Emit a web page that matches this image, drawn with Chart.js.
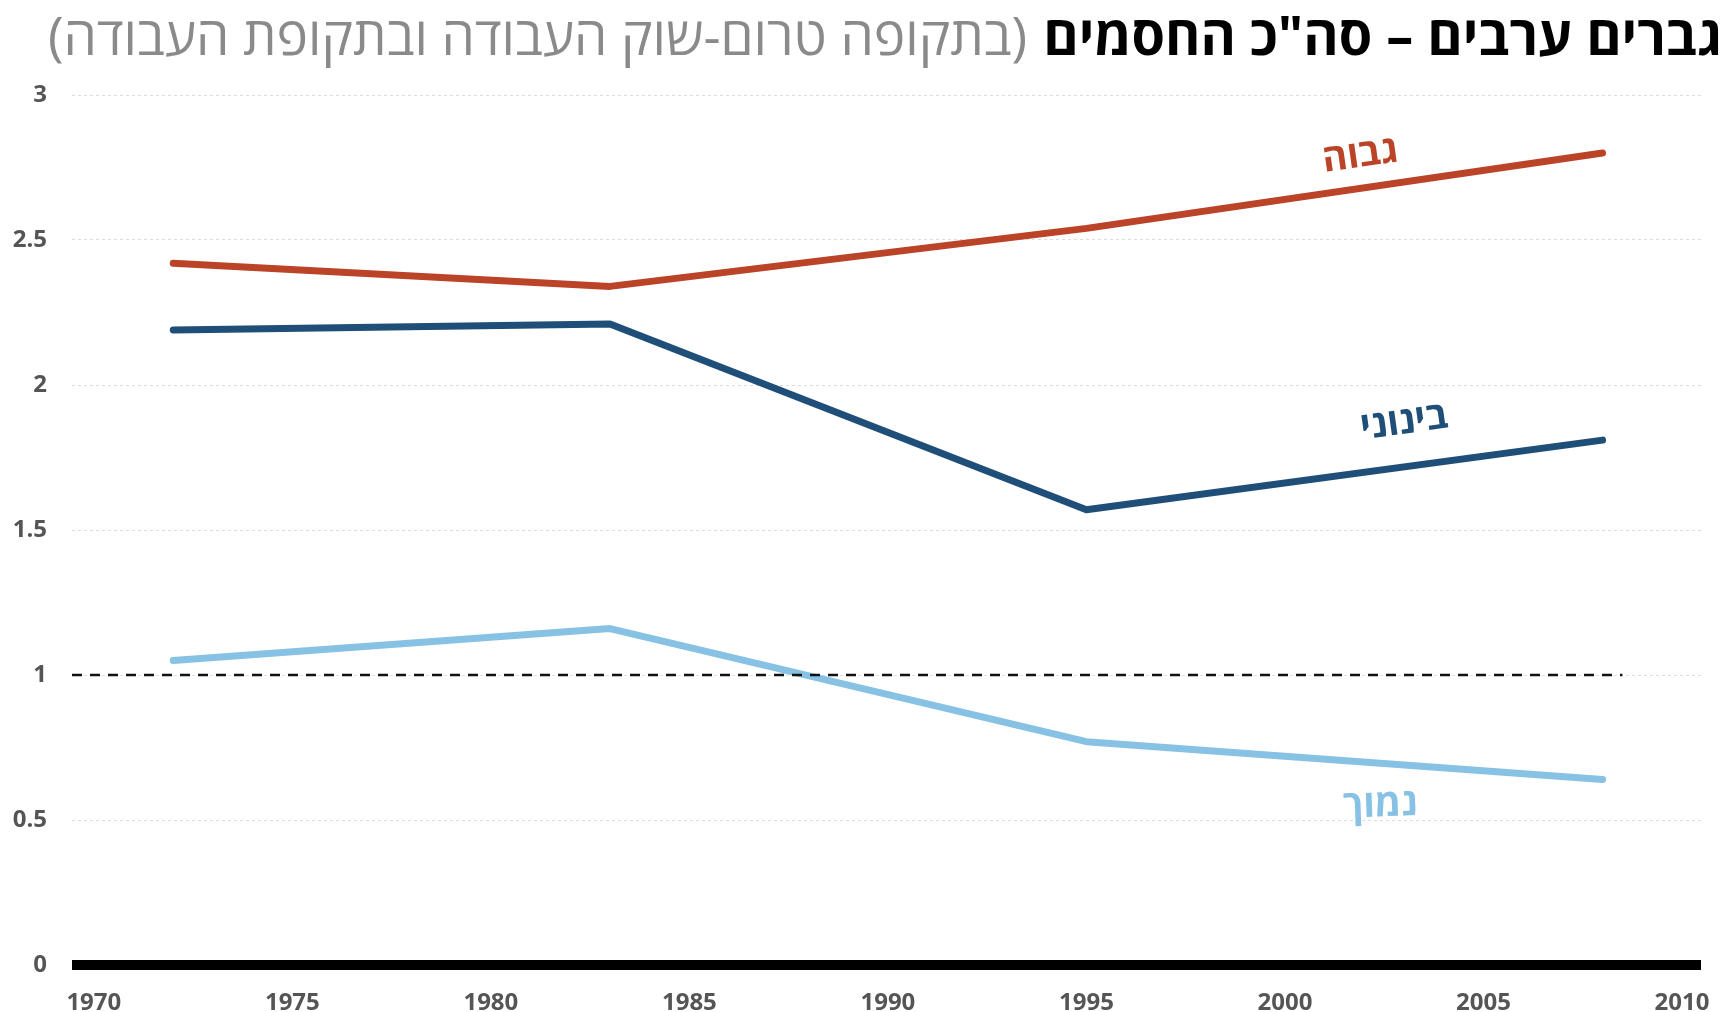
<!DOCTYPE html>
<html>
<head>
<meta charset="utf-8">
<script src="https://cdn.jsdelivr.net/npm/chart.js@4/dist/chart.umd.min.js"></script>
<style>
  html, body { margin: 0; padding: 0; background: #fff; }
  #wrap { width: 1729px; height: 1012px; position: relative; }
</style>
</head>
<body>
<div id="wrap"><canvas id="chart"></canvas></div>
<script>
// survey years and index values per group
const years = [1972, 1983, 1995, 2008];
const high = [2.42, 2.34, 2.54, 2.80];
const middle = [2.19, 2.21, 1.57, 1.81];
const low = [1.05, 1.16, 0.77, 0.64];

const seriesNames = ['גבוה', 'בינוני', 'נמוך'];
// where each series name sits: [year, value, tilt in degrees]
const nameAnchors = [[2001.9, 2.79, -8], [2003.0, 1.87, -8], [2002.4, 0.55, -2]];

const xTicks = [1970, 1975, 1980, 1985, 1990, 1995, 2000, 2005, 2010];
const yTicks = [0, 0.5, 1, 1.5, 2, 2.5, 3];
const xMin = 1969.45, xMax = 2010.48;
const refValue = 1, refEnd = 2008.5;

const titleMain = 'גברים ערבים – סה"כ החסמים';
const titleSub = '(בתקופה טרום-שוק העבודה ובתקופת העבודה)';

const colors = ['#bb4327', '#1f4e79', '#87c2e5'];

const pts = vals => vals.map((v, i) => ({ x: years[i], y: v }));

const titleLine = {
  id: 'titleLine',
  afterDraw(chart) {
    const c = chart.ctx;
    c.save();
    c.direction = 'rtl';
    c.textAlign = 'right';
    c.textBaseline = 'alphabetic';
    c.font = 'bold 54px "Open Sans", "DejaVu Sans"';
    c.fillStyle = '#000';
    c.fillText(titleMain, 1722, 55);
    const w = c.measureText(titleMain).width;
    c.font = '53px "Open Sans", "DejaVu Sans"';
    c.fillStyle = '#8a8a8a';
    c.fillText(titleSub, 1722 - w - 16, 55);
    c.restore();
  }
};

const seriesNamesPlugin = {
  id: 'seriesNames',
  afterDatasetsDraw(chart) {
    const c = chart.ctx;
    const xs = chart.scales.x, ys = chart.scales.y;
    c.save();
    c.font = 'bold 38px "Open Sans", "DejaVu Sans"';
    c.textAlign = 'center';
    c.textBaseline = 'middle';
    c.direction = 'rtl';
    seriesNames.forEach((name, i) => {
      const [yr, val, deg] = nameAnchors[i];
      c.save();
      c.translate(xs.getPixelForValue(yr), ys.getPixelForValue(val));
      c.rotate(deg * Math.PI / 180);
      c.fillStyle = colors[i];
      c.fillText(name, 0, 0);
      c.restore();
    });
    c.restore();
  }
};

const lineSet = (label, vals, color) => ({
  label: label,
  data: pts(vals),
  borderColor: color,
  borderWidth: 7,
  borderCapStyle: 'round',
  borderJoinStyle: 'round',
  pointRadius: 0,
  tension: 0,
  clip: false
});

new Chart(document.getElementById('chart'), {
  type: 'line',
  data: {
    datasets: [
      {
        label: 'zero',
        data: [{ x: xMin, y: 0 }, { x: xMax, y: 0 }],
        borderColor: '#000',
        borderWidth: 10,
        pointRadius: 0,
        clip: false
      },
      {
        label: 'ref',
        data: [{ x: xMin, y: refValue }, { x: refEnd, y: refValue }],
        borderColor: '#111',
        borderWidth: 2.5,
        borderDash: [10, 8],
        pointRadius: 0
      },
      lineSet(seriesNames[0], high, colors[0]),
      lineSet(seriesNames[1], middle, colors[1]),
      lineSet(seriesNames[2], low, colors[2])
    ]
  },
  options: {
    responsive: true,
    maintainAspectRatio: false,
    animation: false,
    layout: { padding: { top: 95, right: 28, left: 0, bottom: 0 } },
    plugins: {
      legend: { display: false },
      tooltip: { enabled: false }
    },
    scales: {
      x: {
        type: 'linear',
        min: xMin,
        max: xMax,
        afterBuildTicks: s => { s.ticks = xTicks.map(v => ({ value: v })); },
        afterFit: s => { s.height = 47; s.paddingLeft = 0; s.paddingRight = 0; },
        grid: { display: false, drawTicks: false },
        border: { display: false },
        ticks: {
          padding: 24,
          color: '#555',
          font: { family: '"Open Sans"', weight: 'bold', size: 24 },
          callback: v => String(v)
        }
      },
      y: {
        min: 0,
        max: 3,
        afterBuildTicks: s => { s.ticks = yTicks.map(v => ({ value: v })); },
        afterFit: s => { s.width = 72; },
        grid: { color: '#dcdcdc', lineWidth: 1, drawTicks: false },
        border: { display: false, dash: [3, 3] },
        ticks: {
          padding: 25,
          color: '#555',
          font: { family: '"Open Sans"', weight: 'bold', size: 24 },
          callback: v => String(v)
        }
      }
    }
  },
  plugins: [titleLine, seriesNamesPlugin]
});
</script>
</body>
</html>
